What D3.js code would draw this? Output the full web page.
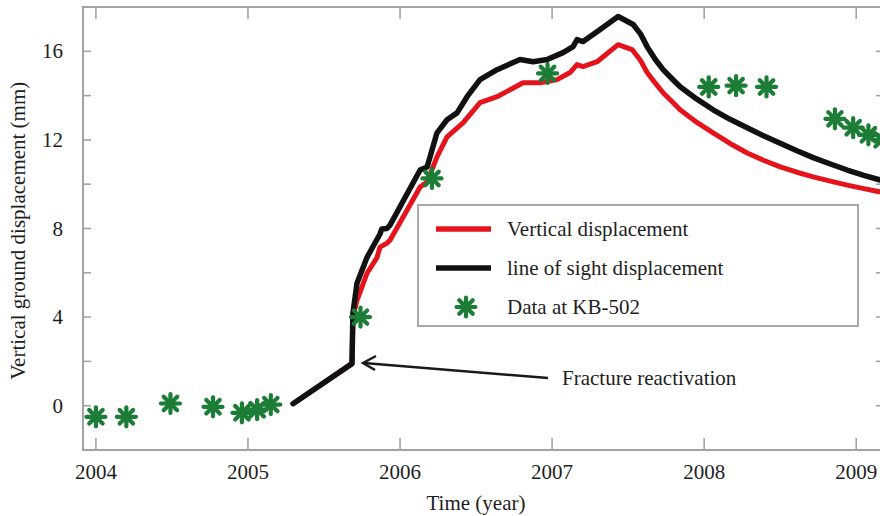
<!DOCTYPE html>
<html>
<head>
<meta charset="utf-8">
<script src="https://cdn.jsdelivr.net/npm/d3@7"></script>
<style>
  body { margin: 0; background: #fff; }
  .frame { fill: none; stroke: #a3a3a3; stroke-width: 2; }
  .tick-mark { stroke: #a3a3a3; stroke-width: 1.6; }
  .lbl { fill: #1e1e1e; font-size: 21px; }
</style>
</head>
<body>
<svg width="880" height="516"></svg>
<script>
// tick labels
var yearTicks = [2004, 2005, 2006, 2007, 2008, 2009];
var dispTicks = [0, 4, 8, 12, 16];
var dispMinor = [-2, 2, 6, 10, 14, 18];

// line of sight displacement (mm) vs decimal year
var losTime = [2005.296, 2005.684, 2005.690, 2005.717, 2005.783, 2005.868, 2005.880, 2005.914, 2005.934,
    2006.132, 2006.178, 2006.243, 2006.309, 2006.375, 2006.441, 2006.526, 2006.638, 2006.789,
    2006.875, 2006.967, 2007.072, 2007.138, 2007.164, 2007.204, 2007.316, 2007.434, 2007.533,
    2007.580, 2007.625, 2007.680, 2007.730, 2007.790, 2007.842, 2007.950, 2008.059, 2008.170,
    2008.283, 2008.390, 2008.500, 2008.610, 2008.717, 2008.830, 2008.941, 2009.050, 2009.158];
var losDisp = [0.09, 1.90, 4.17, 5.53, 6.70, 7.75, 7.98, 8.00, 8.15,
    10.64, 10.78, 12.32, 12.91, 13.22, 13.95, 14.72, 15.17, 15.63,
    15.53, 15.63, 15.94, 16.21, 16.53, 16.44, 16.98, 17.57, 17.21,
    16.80, 16.21, 15.62, 15.17, 14.75, 14.40, 13.85, 13.36, 12.93,
    12.55, 12.19, 11.85, 11.51, 11.20, 10.91, 10.64, 10.40, 10.19];

// vertical displacement (mm)
var vertTime = [2005.296, 2005.684, 2005.690, 2005.717, 2005.783, 2005.849, 2005.868, 2005.914, 2005.934,
    2006.132, 2006.178, 2006.243, 2006.309, 2006.414, 2006.526, 2006.638, 2006.809, 2006.921,
    2007.033, 2007.118, 2007.164, 2007.204, 2007.296, 2007.434, 2007.526, 2007.580, 2007.625,
    2007.680, 2007.730, 2007.790, 2007.842, 2007.950, 2008.059, 2008.170, 2008.283, 2008.390,
    2008.500, 2008.610, 2008.717, 2008.830, 2008.941, 2009.050, 2009.158];
var vertDisp = [0.09, 1.90, 4.00, 4.76, 5.98, 6.70, 7.16, 7.34, 7.47,
    9.87, 10.10, 11.23, 12.14, 12.77, 13.68, 13.95, 14.58, 14.58,
    14.72, 15.04, 15.40, 15.31, 15.53, 16.30, 16.08, 15.60, 15.04,
    14.55, 14.13, 13.72, 13.36, 12.80, 12.32, 11.84, 11.41, 11.08,
    10.78, 10.54, 10.33, 10.14, 9.96, 9.80, 9.65];

// measured data at KB-502
var kbTime = [2004.00, 2004.20, 2004.49, 2004.77, 2004.96, 2005.06, 2005.15, 2005.74, 2006.21,
    2006.97, 2008.03, 2008.21, 2008.41, 2008.86, 2008.98, 2009.08, 2009.17];
var kbDisp = [-0.50, -0.50, 0.10, -0.05, -0.32, -0.18, 0.05, 4.00, 10.26,
    15.00, 14.39, 14.45, 14.39, 12.95, 12.55, 12.23, 12.00];

var svg = d3.select("svg")
    .style("display", "block")
    .style("font-family", "'Liberation Serif', Tinos, 'Times New Roman', 'DejaVu Serif', serif"),
    width = +svg.attr("width"),
    height = +svg.attr("height");

var plotLeft = 83, plotTop = 7, plotRight = 883, plotBottom = 450;

var x = d3.scaleLinear().domain([2003.915, 2009.18]).range([plotLeft, plotLeft + (2009.18 - 2003.915) * 152.06]);
var y = d3.scaleLinear().domain([-2, 18]).range([plotBottom, plotTop]);

var red = "#e5141c", black = "#111", green = "#1b7d36";

var defs = svg.append("defs");
defs.append("clipPath").attr("id", "plot")
    .append("rect").attr("x", plotLeft).attr("y", plotTop)
    .attr("width", plotRight - plotLeft).attr("height", plotBottom - plotTop);

// frame
svg.append("rect").attr("class", "frame")
    .attr("x", plotLeft).attr("y", plotTop)
    .attr("width", plotRight - plotLeft).attr("height", plotBottom - plotTop);

// inward ticks on all four sides
var ticks = svg.append("g");
ticks.selectAll(".xb").data(yearTicks).enter().append("line")
    .attr("class", "tick-mark")
    .attr("x1", function(d) { return x(d); }).attr("x2", function(d) { return x(d); })
    .attr("y1", plotBottom).attr("y2", plotBottom - 12);
ticks.selectAll(".xt").data(yearTicks).enter().append("line")
    .attr("class", "tick-mark")
    .attr("x1", function(d) { return x(d); }).attr("x2", function(d) { return x(d); })
    .attr("y1", plotTop).attr("y2", plotTop + 12);
ticks.selectAll(".yl").data(dispTicks.concat(dispMinor)).enter().append("line")
    .attr("class", "tick-mark")
    .attr("x1", plotLeft).attr("x2", plotLeft + 8)
    .attr("y1", function(d) { return y(d); }).attr("y2", function(d) { return y(d); });
ticks.selectAll(".yr").data(dispTicks.concat(dispMinor)).enter().append("line")
    .attr("class", "tick-mark")
    .attr("x1", plotRight).attr("x2", plotRight - 7)
    .attr("y1", function(d) { return y(d); }).attr("y2", function(d) { return y(d); });

// tick labels
svg.append("g").selectAll("text").data(yearTicks).enter().append("text")
    .attr("class", "lbl")
    .attr("x", function(d) { return x(d); })
    .attr("y", 479)
    .attr("text-anchor", "middle")
    .text(function(d) { return d; });

svg.append("g").selectAll("text").data(dispTicks).enter().append("text")
    .attr("class", "lbl")
    .attr("x", 63)
    .attr("y", function(d) { return y(d) + 7; })
    .attr("text-anchor", "end")
    .text(function(d) { return d; });

// axis titles
svg.append("text").attr("class", "lbl")
    .attr("x", 476).attr("y", 510)
    .attr("text-anchor", "middle")
    .text("Time (year)");

svg.append("text").attr("class", "lbl")
    .attr("transform", "translate(25," + y(7.9) + ") rotate(-90)")
    .attr("text-anchor", "middle")
    .text("Vertical ground displacement (mm)");

// model curves
var line = d3.line()
    .x(function(d) { return x(d[0]); })
    .y(function(d) { return y(d[1]); });

var plot = svg.append("g").attr("clip-path", "url(#plot)");

plot.append("path")
    .datum(d3.zip(vertTime, vertDisp))
    .attr("d", line)
    .attr("fill", "none")
    .attr("stroke", red)
    .attr("stroke-width", 5)
    .attr("stroke-linejoin", "round");

plot.append("path")
    .datum(d3.zip(losTime, losDisp))
    .attr("d", line)
    .attr("fill", "none")
    .attr("stroke", black)
    .attr("stroke-width", 5.5)
    .attr("stroke-linejoin", "round")
    .attr("stroke-linecap", "round");

// eight-armed asterisk marker
function star(g, r) {
    [0, 45, 90, 135].forEach(function(a) {
        g.append("line")
            .attr("x1", -r).attr("x2", r).attr("y1", 0).attr("y2", 0)
            .attr("transform", "rotate(" + a + ")")
            .attr("stroke", green)
            .attr("stroke-width", 4.2)
            .attr("stroke-linecap", "round");
    });
    g.append("circle").attr("r", 4.5).attr("fill", green);
}

plot.selectAll(".kb")
    .data(d3.zip(kbTime, kbDisp))
    .enter().append("g")
    .attr("class", "kb")
    .attr("transform", function(d) { return "translate(" + x(d[0]) + "," + y(d[1]) + ")"; })
    .each(function() { star(d3.select(this), 9.5); });

// legend
var legend = svg.append("g");
legend.append("rect")
    .attr("x", 418).attr("y", 205).attr("width", 440).attr("height", 121)
    .attr("fill", "#fff").attr("stroke", "#a8a8a8").attr("stroke-width", 2);

var legendItems = [
    { label: "Vertical displacement", color: red, kind: "line" },
    { label: "line of sight displacement", color: black, kind: "line" },
    { label: "Data at KB-502", color: green, kind: "star" }
];

legendItems.forEach(function(d, i) {
    var yy = 229 + i * 39;
    if (d.kind === "line") {
        legend.append("line")
            .attr("x1", 436).attr("x2", 491).attr("y1", yy).attr("y2", yy)
            .attr("stroke", d.color).attr("stroke-width", 5.5);
    } else {
        star(legend.append("g").attr("transform", "translate(466," + yy + ")"), 9.5);
    }
    legend.append("text").attr("class", "lbl")
        .attr("x", 507).attr("y", yy + 7)
        .text(d.label);
});

// annotation arrow
var ann = svg.append("g").attr("stroke", "#1a1a1a").attr("stroke-width", 2.5).attr("fill", "none");
ann.append("line").attr("x1", 548).attr("y1", 378).attr("x2", 364).attr("y2", 363);
ann.append("path").attr("d", "M376,356 L363,363 L375,370");

svg.append("text").attr("class", "lbl")
    .attr("x", 562).attr("y", 385)
    .text("Fracture reactivation");
</script>
</body>
</html>
